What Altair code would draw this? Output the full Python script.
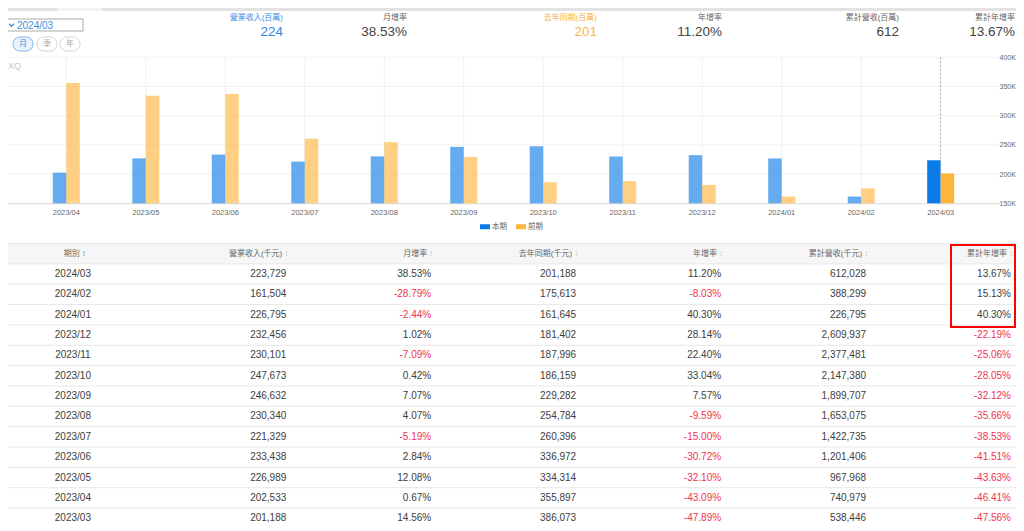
import altair as alt
import pandas as pd

FONT = "'Liberation Sans', Arial, 'Noto Sans CJK TC', sans-serif"

# ------------------------------------------------------------------ data
periods = ["2024/03", "2024/02", "2024/01", "2023/12", "2023/11", "2023/10", "2023/09",
           "2023/08", "2023/07", "2023/06", "2023/05", "2023/04", "2023/03"]
revenue = [223729, 161504, 226795, 232456, 230101, 247673, 246632,
           230340, 221329, 233438, 226989, 202533, 201188]
mom = [38.53, -28.79, -2.44, 1.02, -7.09, 0.42, 7.07, 4.07, -5.19, 2.84, 12.08, 0.67, 14.56]
last_year = [201188, 175613, 161645, 181402, 187996, 186159, 229282,
             254784, 260396, 336972, 334314, 355897, 386073]
yoy = [11.20, -8.03, 40.30, 28.14, 22.40, 33.04, 7.57, -9.59, -15.00, -30.72, -32.10, -43.09, -47.89]
cum_rev = [612028, 388299, 226795, 2609937, 2377481, 2147380, 1899707,
           1653075, 1422735, 1201406, 967968, 740979, 538446]
cum_yoy = [13.67, 15.13, 40.30, -22.19, -25.06, -28.05, -32.12, -35.66, -38.53, -41.51, -43.63, -46.41, -47.56]

columns = ["期別", "營業收入(千元)", "月增率", "去年同期(千元)", "年增率", "累計營收(千元)", "累計年增率"]
series_names = ["本期", "前期"]
chart_months = periods[:12][::-1]          # 2023/04 .. 2024/03
highlight_month = periods[0]
y_ticks = [150000, 200000, 250000, 300000, 350000, 400000]
grid_ticks = [200000, 250000, 300000, 350000, 400000]
kpi_titles = ["營業收入(百萬)", "月增率", "去年同期(百萬)", "年增率", "累計營收(百萬)", "累計年增率"]
buttons = ["月", "季", "年"]

# ------------------------------------------------------------------ style / layout
W, H = 1008, 515
BLUE, ORANGE = "#0a7ce6", "#ffb53b"
DARK, RED, GREY = "#404040", "#f0334f", "#666666"


def one():
    return alt.Chart(pd.DataFrame({"k": [0]}))


# ------------------------------------------------------------------ chrome (tabs, selector, KPI header)
chrome = [
    one().mark_rect(color="#e2e2e2").encode(x=alt.value(0), x2=alt.value(W), y=alt.value(0), y2=alt.value(3)),
    one().mark_rect(color="#f4f4f4").encode(x=alt.value(49), x2=alt.value(94), y=alt.value(0), y2=alt.value(3)),
    one().mark_rect(fill="white", stroke="#a9a9a9", strokeWidth=1).encode(
        x=alt.value(-2), x2=alt.value(75), y=alt.value(11), y2=alt.value(23)),
    one().mark_point(shape="M-1,-0.5L0,0.5L1,-0.5", size=25, filled=False, color="#3b8fe3",
                     strokeWidth=1.3, opacity=1).encode(x=alt.value(3.5), y=alt.value(17)),
    one().mark_text(text=periods[0], align="left", fontSize=10, color="#3b8fe3", font=FONT).encode(
        x=alt.value(9), y=alt.value(17.5)),
    one().mark_text(text="XQ", align="left", fontSize=9, color="#c4c4c4", font=FONT).encode(
        x=alt.value(0), y=alt.value(58)),
]
for i, lab in enumerate(buttons):
    x0 = [5, 29, 52][i]
    active = i == 0
    chrome.append(one().mark_rect(cornerRadius=7, fill="#e9f3fd" if active else "white",
                                  stroke="#7db4ea" if active else "#d3d3d3", strokeWidth=1).encode(
        x=alt.value(x0), x2=alt.value(x0 + 20), y=alt.value(29), y2=alt.value(43)))
    chrome.append(one().mark_text(text=lab, fontSize=8, font=FONT,
                                  color="#3d8ee6" if active else "#aaaaaa").encode(
        x=alt.value(x0 + 10), y=alt.value(36)))

kpi_values = [f"{round(revenue[0] / 1000)}", f"{mom[0]:.2f}%", f"{round(last_year[0] / 1000)}",
              f"{yoy[0]:.2f}%", f"{round(cum_rev[0] / 1000)}", f"{cum_yoy[0]:.2f}%"]
kpi_right = [275, 399, 589, 714, 891, 1007]
kpi_title_col = ["#3d8ee6", GREY, "#f5b342", GREY, GREY, GREY]
kpi_val_col = ["#2f86e3", "#444444", "#f8b64c", "#444444", "#444444", "#444444"]
for t, v, xr, ct, cv in zip(kpi_titles, kpi_values, kpi_right, kpi_title_col, kpi_val_col):
    chrome.append(one().mark_text(text=t, align="right", fontSize=8, color=ct, font=FONT).encode(
        x=alt.value(xr), y=alt.value(9.5)))
    chrome.append(one().mark_text(text=v, align="right", fontSize=13.5, color=cv, font=FONT).encode(
        x=alt.value(xr), y=alt.value(23.5)))

# ------------------------------------------------------------------ bar chart
bar_rows = []
for m in chart_months:
    i = periods.index(m)
    bar_rows.append({"month": m, "series": series_names[0], "value": revenue[i]})
    bar_rows.append({"month": m, "series": series_names[1], "value": last_year[i]})
bar_df = pd.DataFrame(bar_rows)
month_df = pd.DataFrame({"month": chart_months})
grid_df = pd.DataFrame({"tick": grid_ticks})

BASE_Y = 195.3
x_scale = alt.Scale(domain=chart_months, range=[-1, 992], paddingInner=0.66, paddingOuter=0.576)
x_axis = alt.Axis(title=None, orient="bottom", offset=BASE_Y - H, labelFontSize=7.5, labelColor=GREY,
                  labelFont=FONT, ticks=False, domainColor="#d6d6d6", domainWidth=1, labelPadding=5,
                  grid=False, labelAngle=0)
y_scale = alt.Scale(domain=[150000, 400000], range=[BASE_Y, 49.3], zero=False, nice=False)
y_axis = alt.Axis(title=None, orient="right", offset=990 - W, values=y_ticks,
                  labelExpr="datum.value / 1000 + 'K'", labelFontSize=7, labelColor=GREY,
                  labelFont=FONT, domain=False, ticks=False, grid=False, labelPadding=1)

xm = alt.X("month:N", scale=x_scale, axis=x_axis)

hgrid = alt.Chart(grid_df).mark_rule(color="#f0f0f0", strokeWidth=1).encode(
    y=alt.Y("tick:Q", scale=y_scale, axis=y_axis), x=alt.value(-1), x2=alt.value(992))
vgrid = alt.Chart(month_df).mark_rule(color="#f0f0f0", strokeWidth=1).encode(
    x=xm, y=alt.YDatum(400000, type="quantitative", scale=y_scale, axis=y_axis), y2=alt.Y2Datum(150000))
bars = alt.Chart(bar_df).mark_bar().encode(
    x=xm,
    xOffset=alt.XOffset("series:N", scale=alt.Scale(domain=series_names)),
    y=alt.Y("value:Q", scale=y_scale, axis=y_axis),
    y2=alt.Y2Datum(150000),
    color=alt.Color("series:N", scale=alt.Scale(domain=series_names, range=[BLUE, ORANGE]),
                    legend=alt.Legend(orient="none", legendX=472, legendY=213.5, direction="horizontal",
                                      title=None, symbolType="M-1,-0.5H1V0.5H-1Z", symbolSize=100,
                                      symbolStrokeWidth=0, symbolOpacity=1, labelFontSize=7.5,
                                      labelColor=GREY, labelFont=FONT, labelOffset=2,
                                      columnPadding=9, padding=0)),
    opacity=alt.condition(f"datum.month == '{highlight_month}'", alt.value(1), alt.value(0.63)),
)
cross = alt.Chart(month_df).transform_filter(f"datum.month == '{highlight_month}'").mark_rule(
    color="#a8aec4", strokeWidth=1, strokeDash=[2, 2]).encode(
    x=xm, y=alt.YDatum(400000, type="quantitative", scale=y_scale, axis=y_axis), y2=alt.Y2Datum(150000))
bar_group = alt.layer(hgrid, vgrid, bars, cross)

# ------------------------------------------------------------------ table
row_domain = ["header"] + periods
COL_L, COL_R = -7.6, 1007.0
STEP = (COL_R - COL_L) / len(columns)
ROW_TOP, ROW_STEP = 235.5, 20.35
tx_scale = alt.Scale(domain=columns, range=[COL_L, COL_R], paddingInner=0, paddingOuter=0)
ty_scale = alt.Scale(domain=row_domain, range=[ROW_TOP, ROW_TOP + len(row_domain) * ROW_STEP],
                     paddingInner=0, paddingOuter=0)


def ty(band=0.5):
    return alt.Y("row:N", scale=ty_scale, axis=None, bandPosition=band)


def tx():
    return alt.X("col:N", scale=tx_scale, axis=None)


cells = []
for i, p in enumerate(periods):
    vals = [f"{revenue[i]:,}", f"{mom[i]:.2f}%", f"{last_year[i]:,}", f"{yoy[i]:.2f}%",
            f"{cum_rev[i]:,}", f"{cum_yoy[i]:.2f}%"]
    nums = [revenue[i], mom[i], last_year[i], yoy[i], cum_rev[i], cum_yoy[i]]
    for c, v, n in zip(columns[1:], vals, nums):
        cells.append({"row": p, "col": c, "label": v, "neg": bool(n < 0)})
cell_df = pd.DataFrame(cells)
period_df = pd.DataFrame({"row": periods, "col": columns[0], "label": periods})
head_df = pd.DataFrame({"row": "header", "col": columns[1:], "label": columns[1:]})
head0_df = pd.DataFrame({"row": ["header"], "col": [columns[0]], "label": [columns[0]]})
rows_df = pd.DataFrame({"row": row_domain})

half = STEP / 2
header_bg = alt.Chart(pd.DataFrame({"row": ["header"]})).mark_rect(color="#f6f6f6").encode(
    y=alt.Y("row:N", scale=ty_scale, axis=None), x=alt.value(0), x2=alt.value(W))
row_lines = alt.Chart(rows_df).mark_rule(color="#e8e8e8", strokeWidth=1).encode(
    y=ty(1), x=alt.value(0), x2=alt.value(W))
top_line = alt.Chart(pd.DataFrame({"row": ["header"]})).mark_rule(color="#e8e8e8", strokeWidth=1).encode(
    y=ty(0), x=alt.value(0), x2=alt.value(W))
head_txt = alt.Chart(head_df).mark_text(align="right", dx=half - 8, fontSize=8, color=GREY, font=FONT).encode(
    x=tx(), y=ty(), text="label:N")
head_icon = alt.Chart(head_df).mark_text(text="↕", align="right", dx=half - 2, fontSize=8, color="#b8cfe3",
                                         font=FONT).encode(x=tx(), y=ty())
head0_txt = alt.Chart(head0_df).mark_text(align="center", dx=-1, fontSize=8, color=GREY, font=FONT).encode(
    x=tx(), y=ty(), text="label:N")
head0_icon = alt.Chart(head0_df).mark_text(text="↕", align="left", dx=9, fontSize=8, color="#4a90e2",
                                           font=FONT).encode(x=tx(), y=ty())
cell_txt = alt.Chart(cell_df).mark_text(align="right", dx=half - 4, fontSize=10, font=FONT).encode(
    x=tx(), y=ty(), text="label:N",
    color=alt.condition("datum.neg", alt.value(RED), alt.value(DARK)))
period_txt = alt.Chart(period_df).mark_text(align="center", fontSize=10, color=DARK, font=FONT).encode(
    x=tx(), y=ty(), text="label:N")
red_box = one().mark_rect(fill=None, stroke="#ff0000", strokeWidth=2).encode(
    x=alt.value(943), x2=alt.value(1007), y=alt.value(237), y2=alt.value(319))
table_group = alt.layer(header_bg, row_lines, top_line, head_txt, head_icon, head0_txt, head0_icon,
                        cell_txt, period_txt)

chart = alt.layer(*chrome, bar_group, table_group, red_box).resolve_scale(
    x="independent", y="independent").properties(
    width=W, height=H, autosize=alt.AutoSizeParams(type="none"), padding=0, background="white"
).configure(font=FONT, view=alt.ViewConfig(stroke=None))

chart.save("out.html", embed_options={"renderer": "svg", "actions": False})
